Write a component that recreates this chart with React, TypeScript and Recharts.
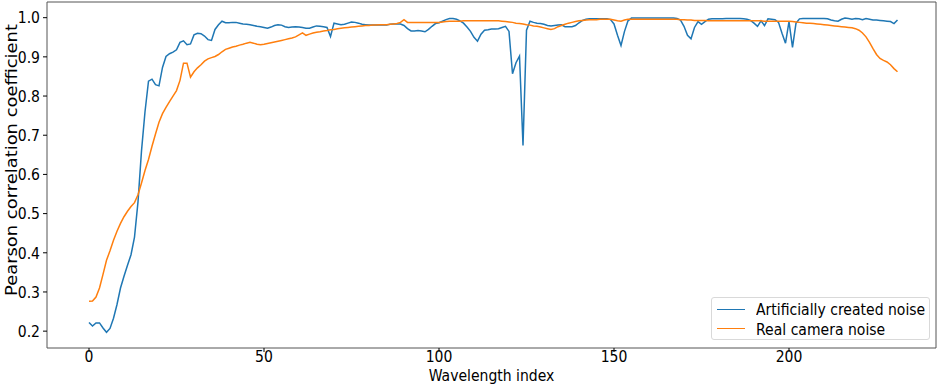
import React from 'react';
import { LineChart, Line, XAxis, YAxis, ReferenceArea, Legend } from 'recharts';

const wavelengthIndex: number[] = [];
for (let i = 0; i < 232; i++) wavelengthIndex.push(i);

const artificialNoise = [
  0.222, 0.213, 0.221, 0.221, 0.208, 0.197, 0.207, 0.233, 0.268, 0.310,
  0.340, 0.368, 0.395, 0.440, 0.530, 0.660, 0.760, 0.838, 0.843, 0.829,
  0.826, 0.873, 0.901, 0.908, 0.912, 0.918, 0.937, 0.941, 0.931, 0.933,
  0.956, 0.960, 0.959, 0.953, 0.944, 0.942, 0.970, 0.982, 0.991, 0.987,
  0.987, 0.988, 0.988, 0.986, 0.984, 0.983, 0.982, 0.980, 0.978, 0.977,
  0.975, 0.973, 0.976, 0.980, 0.982, 0.981, 0.977, 0.975, 0.976, 0.977,
  0.976, 0.975, 0.973, 0.973, 0.976, 0.979, 0.978, 0.977, 0.975, 0.952,
  0.986, 0.984, 0.982, 0.983, 0.986, 0.989, 0.988, 0.986, 0.983, 0.982,
  0.981, 0.981, 0.981, 0.981, 0.981, 0.981, 0.983, 0.984, 0.984, 0.984,
  0.980, 0.972, 0.966, 0.966, 0.967, 0.966, 0.964, 0.970, 0.978, 0.985,
  0.987, 0.991, 0.995, 0.998, 0.998, 0.996, 0.992, 0.986, 0.976, 0.965,
  0.950, 0.940, 0.958, 0.968, 0.969, 0.971, 0.971, 0.972, 0.975, 0.978,
  0.965, 0.857, 0.885, 0.902, 0.674, 0.968, 0.991, 0.988, 0.986, 0.985,
  0.983, 0.980, 0.979, 0.980, 0.981, 0.982, 0.977, 0.977, 0.977, 0.980,
  0.987, 0.993, 0.996, 0.997, 0.997, 0.997, 0.997, 0.997, 0.997, 0.995,
  0.984, 0.955, 0.929, 0.965, 0.992, 0.999, 0.999, 0.999, 0.999, 0.999,
  0.999, 0.999, 0.999, 0.999, 0.999, 0.999, 0.999, 0.999, 0.998, 0.994,
  0.978, 0.955, 0.946, 0.975, 0.990, 0.983, 0.990, 0.996, 0.997, 0.997,
  0.997, 0.997, 0.998, 0.998, 0.998, 0.998, 0.998, 0.997, 0.996, 0.993,
  0.986, 0.978, 0.992, 0.980, 0.997, 0.996, 0.995, 0.988, 0.960, 0.935,
  0.990, 0.924, 0.986, 0.997, 0.998, 0.998, 0.998, 0.998, 0.998, 0.998,
  0.998, 0.997, 0.994, 0.992, 0.991, 0.996, 0.999, 0.998, 0.996, 0.998,
  0.997, 0.995, 0.998, 0.996, 0.994, 0.994, 0.993, 0.992, 0.991, 0.990,
  0.985, 0.994,
];

const realCameraNoise = [
  0.276, 0.277, 0.287, 0.310, 0.345, 0.381, 0.405, 0.432, 0.455, 0.475,
  0.492, 0.506, 0.518, 0.528, 0.548, 0.578, 0.610, 0.638, 0.672, 0.703,
  0.733, 0.755, 0.771, 0.786, 0.800, 0.814, 0.840, 0.884, 0.884, 0.848,
  0.862, 0.872, 0.880, 0.889, 0.895, 0.898, 0.901, 0.906, 0.913, 0.919,
  0.922, 0.925, 0.927, 0.930, 0.932, 0.935, 0.937, 0.935, 0.932, 0.931,
  0.932, 0.934, 0.936, 0.938, 0.940, 0.942, 0.944, 0.946, 0.948, 0.951,
  0.956, 0.961, 0.955, 0.958, 0.961, 0.963, 0.964, 0.966, 0.967, 0.969,
  0.970, 0.972, 0.973, 0.974, 0.975, 0.976, 0.977, 0.978, 0.979, 0.980,
  0.980, 0.981, 0.981, 0.982, 0.982, 0.982, 0.983, 0.984, 0.985, 0.988,
  0.995, 0.988, 0.988, 0.988, 0.988, 0.988, 0.988, 0.988, 0.988, 0.988,
  0.988, 0.989, 0.990, 0.991, 0.991, 0.991, 0.991, 0.992, 0.992, 0.992,
  0.992, 0.992, 0.992, 0.992, 0.992, 0.992, 0.992, 0.992, 0.991, 0.990,
  0.989, 0.988, 0.986, 0.985, 0.984, 0.982, 0.981, 0.979, 0.978, 0.976,
  0.974, 0.972, 0.970, 0.972, 0.977, 0.980, 0.983, 0.986, 0.988, 0.990,
  0.992, 0.993, 0.994, 0.995, 0.995, 0.995, 0.996, 0.996, 0.996, 0.996,
  0.994, 0.992, 0.991, 0.994, 0.996, 0.996, 0.996, 0.996, 0.996, 0.996,
  0.996, 0.996, 0.996, 0.996, 0.996, 0.996, 0.996, 0.996, 0.996, 0.995,
  0.995, 0.994, 0.994, 0.993, 0.993, 0.993, 0.993, 0.992, 0.992, 0.992,
  0.992, 0.992, 0.992, 0.992, 0.992, 0.992, 0.992, 0.992, 0.992, 0.992,
  0.992, 0.992, 0.992, 0.991, 0.991, 0.991, 0.991, 0.991, 0.991, 0.991,
  0.991, 0.990, 0.989, 0.988, 0.987, 0.986, 0.986, 0.985, 0.984, 0.983,
  0.982, 0.981, 0.980, 0.979, 0.978, 0.977, 0.976, 0.975, 0.974, 0.972,
  0.968, 0.961, 0.951, 0.937, 0.921, 0.906, 0.896, 0.891, 0.887, 0.880,
  0.870, 0.862,
];

const xTicks = [0, 50, 100, 150, 200];
const yTicks = [0.2, 0.3, 0.4, 0.5, 0.6, 0.7, 0.8, 0.9, 1.0];
const seriesNames = ['Artificially created noise', 'Real camera noise'];
const seriesColors = ['#1f77b4', '#ff7f0e'];

const X_DOMAIN: [number, number] = [-12, 242];
const Y_DOMAIN: [number, number] = [0.157, 1.04];
const FONT = '"DejaVu Sans", sans-serif';
const STRETCH = 1.1;

const data = wavelengthIndex.map((w, i) => ({
  w,
  artificial: artificialNoise[i],
  real: realCameraNoise[i],
}));

const LegendBox = () => (
  <div
    style={{
      width: 219,
      height: 43,
      border: '1px solid #d9d9d9',
      borderRadius: 3,
      background: 'rgba(255,255,255,0.8)',
      fontFamily: FONT,
      fontSize: 14,
      color: '#000',
      boxSizing: 'border-box',
      position: 'relative',
    }}
  >
    {seriesNames.map((name, i) => (
      <div
        key={name}
        style={{
          position: 'absolute',
          left: 5,
          top: 2 + i * 19.5,
          height: 18,
          display: 'flex',
          alignItems: 'center',
          whiteSpace: 'nowrap',
        }}
      >
        <span
          style={{
            display: 'inline-block',
            width: 28,
            height: 0,
            borderTop: `1.5px solid ${seriesColors[i]}`,
            marginRight: 11,
          }}
        />
        <span style={{ display: 'inline-block', transform: 'scaleY(1.15)' }}>{name}</span>
      </div>
    ))}
  </div>
);

const YLabel = () => {
  const cx = 12;
  const cy = 160;
  return (
    <text
      x={cx}
      y={cy}
      transform={`rotate(-90, ${cx}, ${cy})`}
      textAnchor="middle"
      dominantBaseline="central"
      fontFamily={FONT}
      fontSize={15}
      textLength={272}
      lengthAdjust="spacingAndGlyphs"
      fill="#000"
    >
      Pearson correlation coefficient
    </text>
  );
};

const XLabel = (props: any) => {
  const vb = props.viewBox || { x: 47, y: 348, width: 889, height: 38 };
  const ty = 375;
  return (
    <text
      x={vb.x + vb.width / 2}
      y={ty}
      textAnchor="middle"
      dominantBaseline="central"
      fontFamily={FONT}
      fontSize={14}
      fill="#000"
      transform={`translate(0 ${ty}) scale(1 ${STRETCH}) translate(0 ${-ty})`}
    >
      Wavelength index
    </text>
  );
};

const XTick = (props: any) => {
  const { x, y, payload } = props;
  const ty = y + 2;
  return (
    <text
      x={x}
      y={ty}
      textAnchor="middle"
      dominantBaseline="central"
      fontFamily={FONT}
      fontSize={14}
      fill="#000"
      transform={`translate(0 ${ty}) scale(1 ${STRETCH}) translate(0 ${-ty})`}
    >
      {payload.value}
    </text>
  );
};

const YTick = (props: any) => {
  const { x, y, payload } = props;
  return (
    <text
      x={x}
      y={y}
      textAnchor="end"
      dominantBaseline="central"
      fontFamily={FONT}
      fontSize={14}
      fill="#000"
      transform={`translate(0 ${y}) scale(1 ${STRETCH}) translate(0 ${-y})`}
    >
      {Number(payload.value).toFixed(1)}
    </text>
  );
};

export default function App() {
  return (
    <div style={{ position: 'absolute', left: 0, top: 0, width: 937, height: 386, background: '#fff' }}>
      <LineChart
        width={937}
        height={386}
        data={data}
        margin={{ top: 2, right: 1, bottom: 0, left: 0 }}
      >
        <XAxis
          dataKey="w"
          type="number"
          domain={X_DOMAIN}
          ticks={xTicks}
          allowDataOverflow
          height={38}
          tickSize={4}
          tickMargin={2}
          axisLine={false}
          tickLine={{ stroke: '#000', strokeWidth: 1 }}
          tick={XTick}
          label={XLabel}
        />
        <YAxis
          type="number"
          domain={Y_DOMAIN}
          ticks={yTicks}
          allowDataOverflow
          width={47}
          tickSize={4}
          tickMargin={3}
          axisLine={false}
          tickLine={{ stroke: '#000', strokeWidth: 1 }}
          tick={YTick}
          label={YLabel}
        />
        <ReferenceArea
          x1={X_DOMAIN[0]}
          x2={X_DOMAIN[1]}
          y1={Y_DOMAIN[0]}
          y2={Y_DOMAIN[1]}
          stroke="#555"
          strokeWidth={1}
          fill="none"
          fillOpacity={0}
          ifOverflow="visible"
        />
        <Line
          type="linear"
          dataKey="artificial"
          name={seriesNames[0]}
          stroke={seriesColors[0]}
          strokeWidth={1.5}
          dot={false}
          activeDot={false}
          isAnimationActive={false}
        />
        <Line
          type="linear"
          dataKey="real"
          name={seriesNames[1]}
          stroke={seriesColors[1]}
          strokeWidth={1.5}
          dot={false}
          activeDot={false}
          isAnimationActive={false}
        />
        <Legend
          layout="vertical"
          align="center"
          verticalAlign="middle"
          wrapperStyle={{ left: 711, top: 297, width: 219, height: 43 }}
          content={() => <LegendBox />}
        />
      </LineChart>
    </div>
  );
}
